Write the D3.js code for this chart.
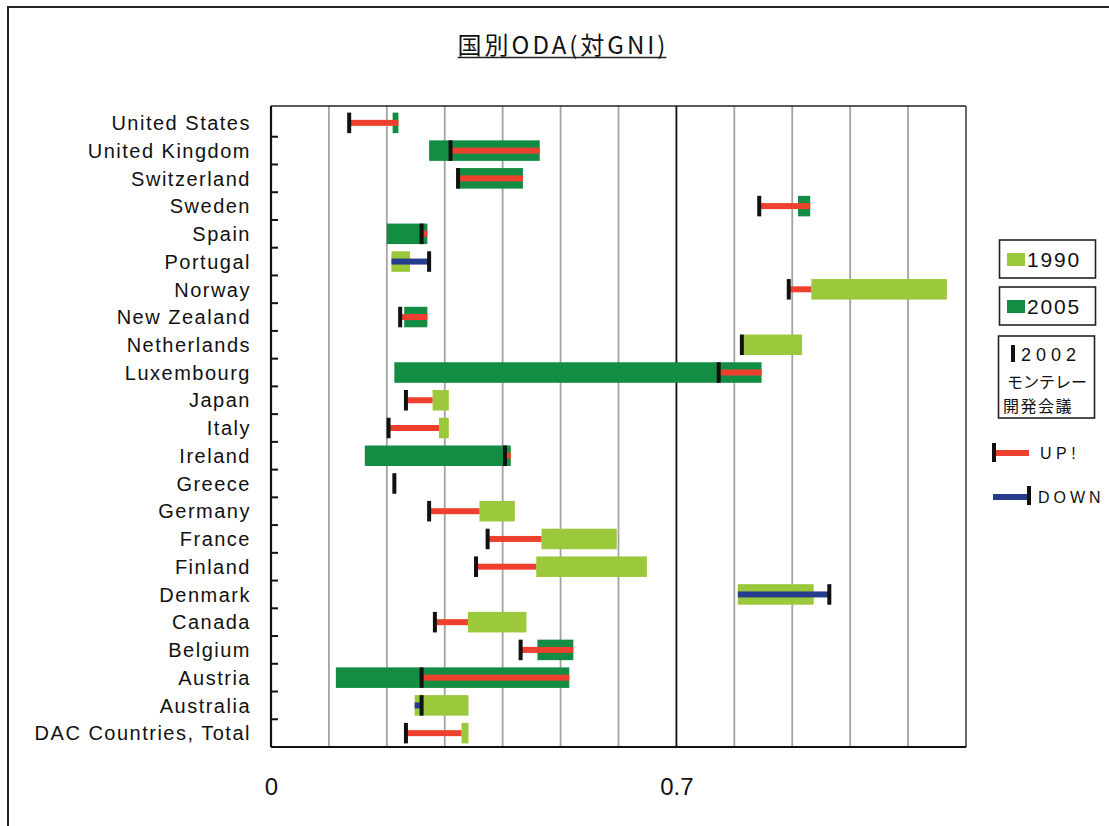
<!DOCTYPE html>
<html>
<head>
<meta charset="utf-8">
<script src="https://cdn.jsdelivr.net/npm/d3@7"></script>
<style>
  body { margin: 0; background: #fff; }
  svg { display: block; }
  text { font-family: "Liberation Sans", Arial, sans-serif; fill: #111; }
</style>
</head>
<body>
<svg id="chart" width="1109" height="826"></svg>
<script>
// ODA as % of GNI, per donor country
const countries = [
  "United States", "United Kingdom", "Switzerland", "Sweden", "Spain",
  "Portugal", "Norway", "New Zealand", "Netherlands", "Luxembourg",
  "Japan", "Italy", "Ireland", "Greece", "Germany", "France", "Finland",
  "Denmark", "Canada", "Belgium", "Austria", "Australia", "DAC Countries, Total"
];
const oda1990 = [0.21, 0.273, 0.32, 0.91, 0.20, 0.24, 1.167, 0.23, 0.917, 0.213,
  0.307, 0.307, 0.162, null, 0.421, 0.597, 0.649, 0.937, 0.441, 0.46, 0.112, 0.341, 0.341];
const oda2002 = [0.135, 0.31, 0.323, 0.843, 0.26, 0.273, 0.894, 0.223, 0.813, 0.773,
  0.233, 0.203, 0.404, 0.213, 0.273, 0.374, 0.354, 0.964, 0.283, 0.431, 0.26, 0.26, 0.233];
const oda2005 = [0.22, 0.464, 0.435, 0.931, 0.27, 0.208, 0.933, 0.27, 0.816, 0.847,
  0.279, 0.29, 0.414, null, 0.36, 0.467, 0.458, 0.806, 0.34, 0.522, 0.515, 0.248, 0.329];

const xTickValues = [0, 0.7];
const xTickLabels = ["0", "0.7"];
const targetLine = 0.7;
const legendYears = ["1990", "2005"];
const titleText = "国別ODA(対GNI)";

const COL_1990 = "#9cc93b";
const COL_2005 = "#138c44";
const COL_UP = "#ee402e";
const COL_DOWN = "#263d8f";
const COL_MARK = "#111";

const rows = countries.map((c, i) => ({
  country: c, v1990: oda1990[i], v2002: oda2002[i], v2005: oda2005[i]
}));

const svg = d3.select("#chart");

// outer chart frame (runs past the right and bottom edges)
svg.append("rect")
  .attr("x", 8).attr("y", 7).attr("width", 1130).attr("height", 840)
  .attr("fill", "none").attr("stroke", "#222").attr("stroke-width", 2);

const plot = { left: 271, right: 966, top: 106, bottom: 747 };

const x = d3.scaleLinear().domain([0, 1.2]).range([plot.left, plot.right]);
const y = d3.scaleBand().domain(countries)
  .range([plot.top + 3, plot.bottom])
  .paddingInner(0.26).paddingOuter(0.13);

// title
const title = svg.append("text")
  .attr("x", 563).attr("y", 54)
  .attr("text-anchor", "middle")
  .style("font-family", "'Noto Sans CJK JP', sans-serif")
  .style("font-size", "24px")
  .style("letter-spacing", "3px")
  .text(titleText);
const tb = title.node().getBBox();
svg.append("line")
  .attr("x1", tb.x).attr("x2", tb.x + tb.width - 2)
  .attr("y1", 57.5).attr("y2", 57.5)
  .attr("stroke", "#222").attr("stroke-width", 1.6);

// vertical gridlines every 0.1
svg.append("g").selectAll("line")
  .data(d3.range(1, 12).map(i => i / 10).filter(v => Math.abs(v - targetLine) > 1e-9))
  .join("line")
  .attr("x1", d => x(d)).attr("x2", d => x(d))
  .attr("y1", plot.top).attr("y2", plot.bottom)
  .attr("stroke", "#a3a3a3").attr("stroke-width", 1.8);

// 0.7% target line
svg.append("line")
  .attr("x1", x(targetLine)).attr("x2", x(targetLine))
  .attr("y1", plot.top).attr("y2", plot.bottom)
  .attr("stroke", "#111").attr("stroke-width", 1.8);

// plot frame
svg.append("line").attr("x1", plot.left).attr("x2", plot.right)
  .attr("y1", plot.top).attr("y2", plot.top)
  .attr("stroke", "#222").attr("stroke-width", 1.6);
svg.append("line").attr("x1", plot.right).attr("x2", plot.right)
  .attr("y1", plot.top).attr("y2", plot.bottom)
  .attr("stroke", "#444").attr("stroke-width", 1.6);

// 1990 -> 2005 change bars
const bh = y.bandwidth();
svg.append("g").selectAll("rect")
  .data(rows.filter(d => d.v1990 != null && d.v2005 != null))
  .join("rect")
  .attr("x", d => x(Math.min(d.v1990, d.v2005)))
  .attr("width", d => Math.abs(x(d.v2005) - x(d.v1990)))
  .attr("y", d => y(d.country))
  .attr("height", bh)
  .attr("fill", d => d.v2005 >= d.v1990 ? COL_2005 : COL_1990);

// 2002 -> 2005 change lines
svg.append("g").selectAll("rect")
  .data(rows.filter(d => d.v2002 != null && d.v2005 != null))
  .join("rect")
  .attr("x", d => x(Math.min(d.v2002, d.v2005)))
  .attr("width", d => Math.abs(x(d.v2005) - x(d.v2002)))
  .attr("y", d => y(d.country) + bh / 2 - 3)
  .attr("height", 6)
  .attr("fill", d => d.v2005 >= d.v2002 ? COL_UP : COL_DOWN);

// 2002 (Monterrey conference) markers
svg.append("g").selectAll("rect")
  .data(rows.filter(d => d.v2002 != null))
  .join("rect")
  .attr("x", d => x(d.v2002) - 2)
  .attr("width", 4)
  .attr("y", d => y(d.country))
  .attr("height", bh)
  .attr("fill", COL_MARK);

// y axis with category labels
const yAxis = svg.append("g")
  .attr("transform", `translate(${plot.left},0)`)
  .call(d3.axisLeft(y).tickSize(0).tickPadding(20));
yAxis.select(".domain").attr("stroke", "#111").attr("stroke-width", 2.2)
  .attr("d", `M0,${plot.top}V${plot.bottom}`);
yAxis.selectAll("text")
  .attr("dy", "0.36em")
  .style("font-size", "20px")
  .style("letter-spacing", "1.5px")
  .style("font-family", "'Liberation Sans', Arial, sans-serif")
  .attr("fill", "#111");

// inward ticks on category boundaries
const step = y.step();
svg.append("g").selectAll("line")
  .data(countries.slice(1))
  .join("line")
  .attr("x1", plot.left).attr("x2", plot.left + 7)
  .attr("y1", d => y(d) - (step - bh) / 2)
  .attr("y2", d => y(d) - (step - bh) / 2)
  .attr("stroke", "#111").attr("stroke-width", 2);

// x axis
const xAxis = svg.append("g")
  .attr("transform", `translate(0,${plot.bottom})`)
  .call(d3.axisBottom(x).tickValues(xTickValues)
    .tickFormat((d, i) => xTickLabels[i]).tickSize(0).tickPadding(31));
xAxis.select(".domain").attr("stroke", "#111").attr("stroke-width", 2.2)
  .attr("d", `M${plot.left},0H${plot.right}`);
xAxis.selectAll("text")
  .style("font-size", "24px")
  .style("font-family", "'Liberation Sans', Arial, sans-serif")
  .attr("fill", "#111");

// legend
const lg = svg.append("g");
const yearBoxes = [
  { label: legendYears[0], color: COL_1990, y: 240 },
  { label: legendYears[1], color: COL_2005, y: 287 }
];
yearBoxes.forEach(b => {
  lg.append("rect").attr("x", 999.5).attr("y", b.y).attr("width", 96).attr("height", 38)
    .attr("fill", "#fff").attr("stroke", "#222").attr("stroke-width", 1.6);
  lg.append("rect").attr("x", 1007).attr("y", b.y + 13).attr("width", 18).attr("height", 13)
    .attr("fill", b.color);
  lg.append("text").attr("x", 1027).attr("y", b.y + 26.5)
    .style("font-size", "21px").style("letter-spacing", "1.8px")
    .text(b.label);
});

lg.append("rect").attr("x", 998.5).attr("y", 336).attr("width", 96).attr("height", 82)
  .attr("fill", "#fff").attr("stroke", "#222").attr("stroke-width", 1.6);
lg.append("rect").attr("x", 1011).attr("y", 345).attr("width", 4).attr("height", 17).attr("fill", COL_MARK);
lg.append("text").attr("x", 1021).attr("y", 361)
  .style("font-size", "18px").style("letter-spacing", "5px")
  .text("2002");
lg.append("text").attr("x", 1047).attr("y", 387.5).attr("text-anchor", "middle")
  .style("font-family", "'Noto Sans CJK JP', sans-serif").style("font-size", "16px")
  .text("モンテレー");
lg.append("text").attr("x", 1003).attr("y", 411.5)
  .style("font-family", "'Noto Sans CJK JP', sans-serif").style("font-size", "16px")
  .style("letter-spacing", "1.5px")
  .text("開発会議");

// UP / DOWN keys
lg.append("rect").attr("x", 994).attr("y", 450).attr("width", 35).attr("height", 6).attr("fill", COL_UP);
lg.append("rect").attr("x", 992).attr("y", 443).attr("width", 4).attr("height", 19).attr("fill", COL_MARK);
lg.append("text").attr("x", 1040).attr("y", 459)
  .style("font-size", "16px").style("letter-spacing", "4.5px").text("UP!");

lg.append("rect").attr("x", 993).attr("y", 494).attr("width", 35).attr("height", 6).attr("fill", COL_DOWN);
lg.append("rect").attr("x", 1027).attr("y", 486).attr("width", 4).attr("height", 19).attr("fill", COL_MARK);
lg.append("text").attr("x", 1038).attr("y", 503)
  .style("font-size", "16px").style("letter-spacing", "4px").text("DOWN");
</script>
</body>
</html>
